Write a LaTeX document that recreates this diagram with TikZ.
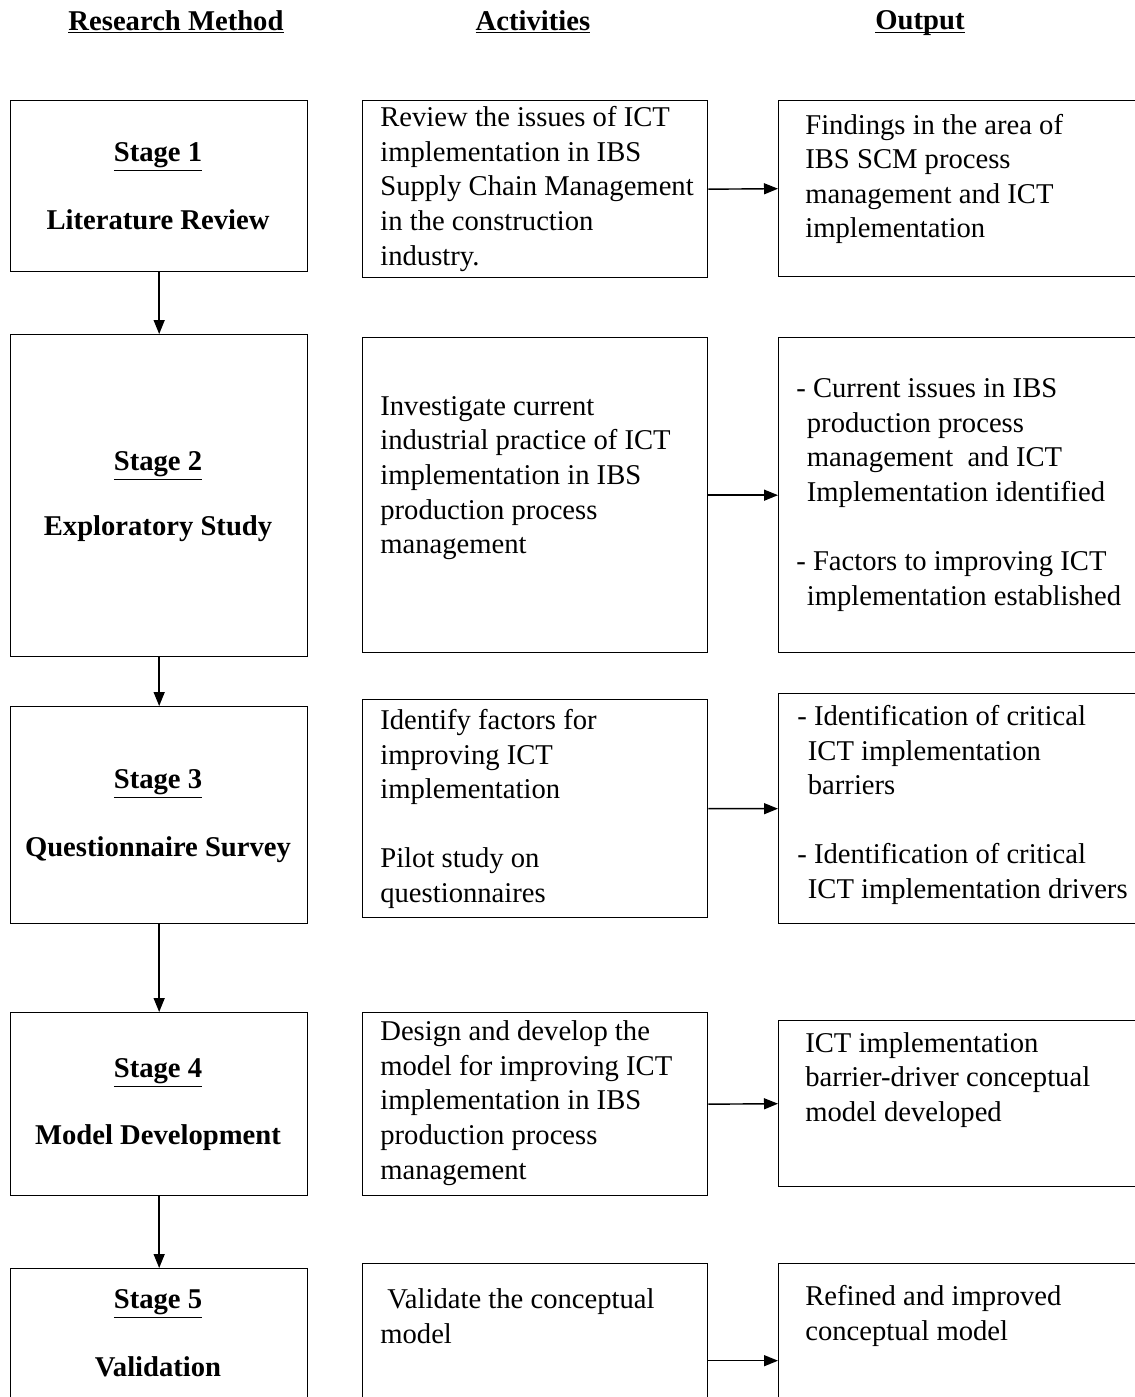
\documentclass[tikz,border=0pt]{standalone}
\usepackage{fontspec}
\setmainfont{Liberation Serif}
\usetikzlibrary{arrows.meta}

\begin{document}
\begin{tikzpicture}[
    x=0.02cm,
    y=-0.02cm,
    every node/.style={font=\fontsize{16.3}{19.7}\selectfont},
    box/.style={draw,line width=0.8pt,anchor=north west,inner sep=0pt},
    txt/.style={anchor=west,align=left,inner sep=0pt},
    head/.style={inner sep=0pt,font=\fontsize{16.3}{19.7}\selectfont\bfseries},
    arr/.style={-{Triangle[length=0.28cm,width=0.22cm]},line width=0.8pt}
]

% -------------------------------------------------
% Page frame (the boxes run past the lower and right edges)
% -------------------------------------------------
\clip (0,0) rectangle (1135,1397);

% -------------------------------------------------
% Column headings
% -------------------------------------------------
\node[head] (hm) at (176,22) {\underline{Research Method}};
\node[head] (ha) at (533,22) {\underline{Activities}};
\node[head] (ho) at (920,22) {\underline{Out\smash{p}ut}};

% -------------------------------------------------
% Research method boxes
% -------------------------------------------------
\node[box,minimum width=5.94cm,minimum height=3.42cm] (s1) at (10,100)  {};
\node[box,minimum width=5.94cm,minimum height=6.44cm] (s2) at (10,334)  {};
\node[box,minimum width=5.94cm,minimum height=4.34cm] (s3) at (10,706)  {};
\node[box,minimum width=5.94cm,minimum height=3.66cm] (s4) at (10,1012) {};
\node[box,minimum width=5.94cm,minimum height=2.80cm] (s5) at (10,1268) {};

\node[head] (t1) at (158,157)  {\underline{Stage 1}};
\node[head] (n1) at (158,220)  {Literature Review};
\node[head] (t2) at (158,466)  {\underline{Stage 2}};
\node[head] (n2) at (158,529)  {Exploratory Study};
\node[head] (t3) at (158,784)  {\underline{Stage 3}};
\node[head] (n3) at (158,850)  {Questionnaire Survey};
\node[head] (t4) at (158,1073) {\underline{Stage 4}};
\node[head] (n4) at (158,1138) {Model Development};
\node[head] (t5) at (158,1304) {\underline{Stage 5}};
\node[head] (n5) at (158,1367) {Validation};

% -------------------------------------------------
% Activity boxes
% -------------------------------------------------
\node[box,minimum width=6.9cm,minimum height=3.54cm] (m1) at (362,100)  {};
\node[box,minimum width=6.9cm,minimum height=6.30cm] (m2) at (362,337)  {};
\node[box,minimum width=6.9cm,minimum height=4.36cm] (m3) at (362,699)  {};
\node[box,minimum width=6.9cm,minimum height=3.66cm] (m4) at (362,1012) {};
\node[box,minimum width=6.9cm,minimum height=3.88cm] (m5) at (362,1263) {};

\node[txt] (a1) at (380,189) {Review the issues of ICT\\implementation in IBS\\Supply Chain Management\\in the construction\\industry.};
\node[txt] (a2) at (380,478) {Investigate current\\industrial practice of ICT\\implementation in IBS\\production process\\management};
\node[txt] (a3) at (380,809) {Identify factors for\\improving ICT\\implementation\\[19.7pt]Pilot study on\\questionnaires};
\node[txt] (a4) at (380,1103) {Design and develop the\\model for improving ICT\\implementation in IBS\\production process\\management};
\node[txt] (a5) at (380,1316) {\hspace{4pt}Validate the conceptual\\model};

% -------------------------------------------------
% Output boxes
% -------------------------------------------------
\node[box,minimum width=7.6cm,minimum height=3.52cm] (o1) at (778,100)  {};
\node[box,minimum width=7.6cm,minimum height=6.30cm] (o2) at (778,337)  {};
\node[box,minimum width=7.6cm,minimum height=4.60cm] (o3) at (778,693)  {};
\node[box,minimum width=7.6cm,minimum height=3.32cm] (o4) at (778,1020) {};
\node[box,minimum width=7.6cm,minimum height=3.88cm] (o5) at (778,1263) {};

\node[txt] (r1) at (805,179) {Findings in the area of\\IBS SCM process\\management and ICT\\implementation};
\node[txt] (r2) at (796,495) {- Current issues in IBS\\\hspace{6pt}production process\\\hspace{6pt}management\ \ and ICT\\\hspace{6pt}Implementation identified\\[19.7pt]- Factors to improving ICT\\\hspace{6pt}implementation established};
\node[txt] (r3) at (797,805) {- Identification of critical\\\hspace{6pt}ICT implementation\\\hspace{6pt}barriers\\[19.7pt]- Identification of critical\\\hspace{6pt}ICT implementation drivers};
\node[txt] (r4) at (805,1080) {ICT implementation\\barrier-driver conceptual\\model developed};
\node[txt] (r5) at (805,1316) {Refined and improved\\conceptual model};

% -------------------------------------------------
% Arrows
% -------------------------------------------------

% Down the stages
\draw[arr] (s1.south) -- (s2.north);
\draw[arr] (s2.south) -- (s3.north);
\draw[arr] (s3.south) -- (s4.north);
\draw[arr] (s4.south) -- (s5.north);

% Activities to outputs
\draw[arr] (m1.east) -- (o1.west);
\draw[arr] (m2.east) -- (o2.west);
\draw[arr] (m3.east) -- (o3.west);
\draw[arr] (m4.east) -- (o4.west);
\draw[arr] (m5.east) -- (o5.west);

\end{tikzpicture}
\end{document}
